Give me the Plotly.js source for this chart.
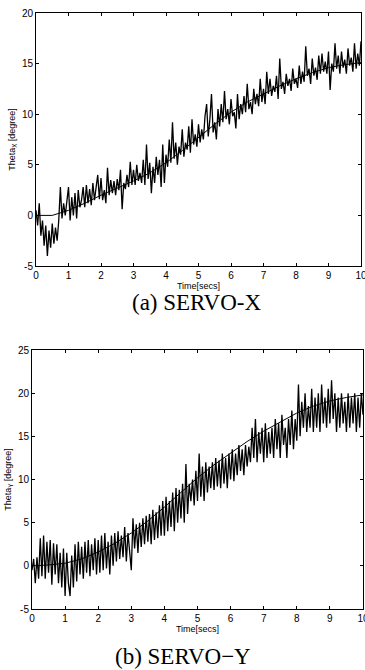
<!DOCTYPE html>
<html>
<head>
<meta charset="utf-8">
<script src="https://cdn.plot.ly/plotly-3.0.1.min.js"></script>
<style>html,body{margin:0;padding:0;background:#fff;}#chart{width:365px;height:670px;}</style>
</head>
<body>
<div id="chart"></div>
<script>
// Sample spacing of the measured signals (seconds)
const sampleStart = 0;
const sampleStep = 0.05;

// Measured Theta_X (degree), samples every 0.05 s from 0 to 10 s
const thetaX = [
  0.5, -1.0, 1.2, -2.0, -0.5, -3.0, -1.0, -4.0, -1.5, -3.2, -0.8, -2.8, -1.2, -2.5, -0.5, 2.8, -0.3, 1.2, 0.0, 1.5,
  2.8, -0.5, 1.8, 0.0, 2.2, -0.3, 2.5, 0.8, 1.5, 2.8, 0.8, 3.0, 1.2, 2.6, 1.0, 3.2, 1.5, 2.8, 4.0, 1.6,
  3.7, 1.5, 2.5, 1.2, 4.7, 2.0, 3.5, 2.2, 3.4, 2.0, 3.6, 2.5, 4.5, 0.6, 3.2, 2.6, 4.0, 2.8, 5.3, 3.0,
  4.5, 3.0, 5.0, 3.4, 4.2, 3.2, 5.5, 3.0, 7.0, 3.6, 5.2, 2.2, 4.8, 3.2, 5.8, 4.0, 5.5, 2.8, 7.0, 3.2,
  6.0, 4.8, 7.5, 5.2, 9.2, 5.6, 7.2, 5.0, 6.8, 6.0, 8.5, 5.8, 7.2, 6.5, 8.8, 6.2, 9.5, 7.0, 8.0, 6.8,
  9.0, 7.2, 8.5, 7.5, 9.8, 11.0, 7.8, 9.5, 12.0, 8.2, 9.2, 7.5, 10.5, 8.8, 11.0, 9.2, 12.3, 9.5, 10.5, 9.0,
  11.5, 9.8, 10.2, 8.6, 12.0, 9.5, 11.0, 10.0, 11.8, 10.2, 13.0, 10.5, 11.2, 10.0, 12.5, 11.0, 12.0, 10.8, 13.5, 11.2,
  12.5, 11.0, 14.2, 12.0, 13.5, 11.8, 12.8, 12.2, 13.8, 11.5, 15.5, 12.5, 13.2, 12.0, 14.0, 12.8, 13.5, 12.3, 14.5, 13.0,
  13.5, 12.6, 14.8, 13.0, 14.2, 13.2, 16.7, 13.8, 14.5, 13.0, 15.5, 13.8, 14.6, 13.4, 15.8, 14.0, 16.0, 14.2, 15.2, 14.0,
  16.2, 12.4, 15.0, 14.2, 17.0, 14.5, 15.8, 14.0, 16.2, 14.6, 15.4, 14.0, 16.5, 14.8, 15.6, 14.2, 17.0, 14.5, 16.0, 14.8,
  17.2
];

// Measured Theta_Y (degree), samples every 0.05 s from 0 to 10 s
const thetaY = [
  -0.5, 0.8, -2.0, 1.0, -1.5, 3.2, -1.2, 3.5, -1.5, 2.8, -0.8, 3.0, -2.2, 2.6, -1.0, 2.5, -2.0, 1.5, -2.5, 2.0,
  -3.5, 1.5, -2.0, -3.5, 1.2, -2.5, 2.5, -1.8, 2.8, -1.0, 2.2, -1.5, 2.8, -0.8, 3.0, -1.2, 2.5, -0.5, 3.2, -1.0,
  3.0, -0.8, 3.5, -0.5, 3.8, -0.3, 2.8, -1.0, 3.5, 0.0, 3.8, 0.5, 4.0, 0.8, 3.5, 1.0, 4.5, 0.5, 3.8, 1.5,
  -0.5, 5.5, 2.0, 4.8, 1.5, 5.0, 2.2, 5.5, 2.5, 5.8, 2.8, 6.0, 2.5, 6.5, 3.0, 6.2, 3.2, 7.0, 3.5, 7.5,
  3.5, 8.0, 4.0, 7.5, 4.5, 8.5, 4.0, 9.0, 5.0, 8.8, 5.5, 9.5, 5.0, 11.8, 6.0, 9.5, 7.5, 10.0, 7.0, 11.0,
  7.5, 13.0, 8.0, 11.5, 7.5, 12.0, 8.5, 11.5, 9.0, 12.0, 8.8, 12.5, 9.2, 12.2, 9.0, 13.0, 9.5, 12.5, 9.0, 13.0,
  10.0, 13.5, 9.8, 13.0, 10.5, 14.0, 11.0, 13.5, 10.5, 14.0, 11.5, 13.8, 12.0, 16.0, 12.5, 17.0, 12.0, 15.5, 13.0, 16.0,
  12.0, 16.5, 12.5, 15.5, 13.0, 16.0, 12.5, 17.0, 13.5, 16.5, 12.5, 17.5, 14.0, 16.0, 12.5, 17.0, 14.0, 18.0, 13.5, 17.0,
  14.5, 21.0, 15.0, 19.0, 16.0, 20.0, 15.5, 18.5, 16.0, 20.5, 15.5, 19.5, 16.0, 20.0, 15.5, 21.0, 16.5, 19.5, 16.0, 20.5,
  16.5, 21.5, 17.0, 20.0, 15.5, 19.5, 16.0, 20.0, 16.5, 19.0, 15.5, 20.0, 16.0, 19.5, 16.5, 20.0, 15.5, 19.5, 16.0, 20.0,
  17.5
];

// Reference (desired) trajectories
const refTime = [0, 0.5, 1, 1.5, 2, 2.5, 3, 3.5, 4, 4.5, 5, 5.5, 6, 6.5, 7, 7.5, 8, 8.5, 9, 9.5, 10];
const refX = [0, 0, 0.5, 1.2, 2.0, 2.7, 3.4, 4.2, 5.2, 6.4, 7.7, 9.0, 10.2, 11.2, 12.0, 12.8, 13.5, 14.1, 14.6, 14.9, 15.1];
const refY = [0, 0.1, 0.3, 0.8, 1.6, 2.6, 3.8, 5.2, 6.8, 8.5, 10.2, 11.7, 13.1, 14.4, 15.6, 16.7, 17.7, 18.5, 19.1, 19.5, 19.8];

const xTicks = [0, 1, 2, 3, 4, 5, 6, 7, 8, 9, 10];
const yTicksX = [-5, 0, 5, 10, 15, 20];
const yTicksY = [-5, 0, 5, 10, 15, 20, 25];

const refLine = {color: '#000', width: 1};
const measLine = {color: '#000', width: 1.3};

const traces = [
  {x: refTime, y: refX, xaxis: 'x', yaxis: 'y', mode: 'lines', line: refLine, showlegend: false},
  {y: thetaX, x0: sampleStart, dx: sampleStep, xaxis: 'x', yaxis: 'y', mode: 'lines', line: measLine, showlegend: false},
  {x: refTime, y: refY, xaxis: 'x2', yaxis: 'y2', mode: 'lines', line: refLine, showlegend: false},
  {y: thetaY, x0: sampleStart, dx: sampleStep, xaxis: 'x2', yaxis: 'y2', mode: 'lines', line: measLine, showlegend: false}
];

const tickFont = {family: 'Arial, Liberation Sans, sans-serif', size: 10, color: '#000'};
const titleFont = {family: 'Arial, Liberation Sans, sans-serif', size: 9, color: '#000'};

function xAxis(domain, anchor) {
  return {
    domain: domain, anchor: anchor, range: [0, 10],
    tickvals: xTicks, ticktext: xTicks.map(String),
    ticks: 'inside', ticklen: 3, tickcolor: '#000',
    showline: true, linecolor: '#000', linewidth: 1, mirror: 'ticks',
    showgrid: false, zeroline: false, tickfont: tickFont,
    ticklabeloverflow: 'allow', automargin: false,
    title: {text: 'Time[secs]', font: titleFont, standoff: 0}
  };
}
function yAxis(domain, anchor, range, ticks, label) {
  return {
    domain: domain, anchor: anchor, range: range,
    tickvals: ticks, ticktext: ticks.map(String),
    ticks: 'inside', ticklen: 3, tickcolor: '#000',
    showline: true, linecolor: '#000', linewidth: 1, mirror: 'ticks',
    showgrid: false, zeroline: false, tickfont: tickFont,
    ticklabeloverflow: 'allow', automargin: false,
    title: {text: label, font: titleFont, standoff: 4}
  };
}

const layout = {
  width: 365, height: 670,
  margin: {l: 0, r: 0, t: 0, b: 0},
  paper_bgcolor: '#fff', plot_bgcolor: '#fff',
  xaxis: xAxis([36/365, 361/365], 'y'),
  yaxis: yAxis([1 - 266/670, 1 - 13/670], 'x', [-5, 20], yTicksX, 'Theta<sub>X</sub> [degree]'),
  xaxis2: xAxis([32/365, 363/365], 'y2'),
  yaxis2: yAxis([1 - 609/670, 1 - 350/670], 'x2', [-5, 25], yTicksY, 'Theta<sub>Y</sub> [degree]'),
  annotations: [
    {text: '(a) SERVO-X', xref: 'paper', yref: 'paper', x: 0.537, y: 1 - 303/670, xanchor: 'center', yanchor: 'middle',
     showarrow: false, font: {family: 'Liberation Serif, Times New Roman, serif', size: 23, color: '#000'}},
    {text: '(b) SERVO\u2212Y', xref: 'paper', yref: 'paper', x: 0.50, y: 1 - 656/670, xanchor: 'center', yanchor: 'middle',
     showarrow: false, font: {family: 'Liberation Serif, Times New Roman, serif', size: 23, color: '#000'}}
  ]
};

Plotly.newPlot('chart', traces, layout, {displayModeBar: false, staticPlot: true});
</script>
</body>
</html>
